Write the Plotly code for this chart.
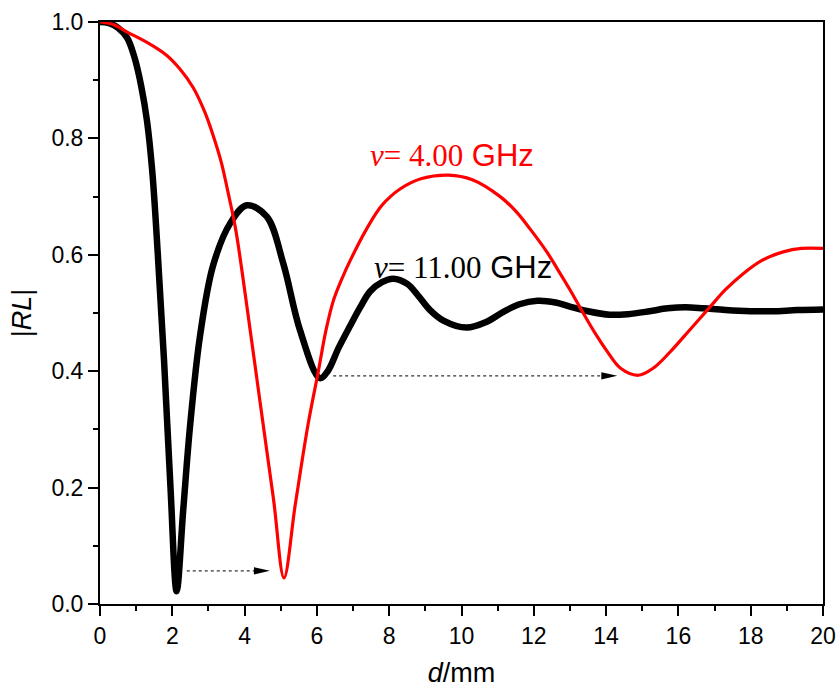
import plotly.graph_objects as go

# nu = 11.00 GHz (black)
d_11 = [0.0, 0.25, 0.5, 0.75, 0.95, 1.14, 1.3, 1.45, 1.6, 1.77, 1.95, 2.12, 2.3, 2.49, 2.77, 3.13,
        3.6, 4.06, 4.61, 5.07, 5.53, 6.08, 6.3, 6.6, 6.92, 7.2, 7.47, 7.8, 8.11, 8.5, 8.8, 9.13,
        9.5, 10.14, 10.7, 11.16, 11.6, 12.1, 12.6, 13.0, 13.5, 14.1, 14.6, 15.2, 15.7, 16.2,
        16.7, 17.3, 18.0, 18.6, 19.3, 20.0]
rl_11 = [1.0, 0.998, 0.99, 0.973, 0.94, 0.89, 0.83, 0.74, 0.60, 0.42, 0.20, 0.022, 0.16, 0.305,
         0.462, 0.582, 0.654, 0.685, 0.666, 0.585, 0.471, 0.388, 0.40, 0.44, 0.478, 0.51, 0.537,
         0.553, 0.559, 0.55, 0.53, 0.505, 0.487, 0.475, 0.485, 0.502, 0.515, 0.521, 0.518, 0.511,
         0.503, 0.497, 0.498, 0.503, 0.508, 0.510, 0.508, 0.505, 0.503, 0.503, 0.505, 0.506]

# nu = 4.00 GHz (red)
d_4 = [0.0, 0.4, 0.74, 1.3, 1.84, 2.2, 2.58, 2.9, 3.13, 3.35, 3.55, 3.75, 4.0, 4.41, 4.8, 5.09,
       5.4, 5.76, 6.04, 6.25, 6.45, 6.7, 6.92, 7.38, 7.8, 8.3, 8.9, 9.64, 10.3, 11.07, 11.5,
       11.89, 12.36, 12.63, 13.0, 13.32, 13.7, 14.02, 14.4, 14.89, 15.3, 15.77, 16.3, 16.87,
       17.3, 17.8, 18.3, 18.9, 19.4, 20.0]
rl_4 = [1.0, 0.995, 0.983, 0.965, 0.943, 0.92, 0.887, 0.845, 0.805, 0.76, 0.705, 0.645, 0.54,
        0.355, 0.18, 0.045, 0.17, 0.31, 0.40, 0.47, 0.52, 0.56, 0.59, 0.645, 0.685, 0.713, 0.731,
        0.737, 0.729, 0.70, 0.675, 0.645, 0.605, 0.578, 0.54, 0.505, 0.465, 0.435, 0.405, 0.393,
        0.405, 0.433, 0.47, 0.51, 0.54, 0.568, 0.59, 0.605, 0.611, 0.611]

# dotted arrows (start x, tip x, y)
arrow_x0 = [2.40, 6.45]
arrow_x1 = [4.70, 14.31]
arrow_y = [0.057, 0.392]

x_ticks = list(range(0, 21, 2))
y_ticks = [0.0, 0.2, 0.4, 0.6, 0.8, 1.0]

fig = go.Figure()
fig.add_trace(go.Scatter(x=d_11, y=rl_11, mode="lines",
                         line=dict(color="black", width=6.5, shape="spline", smoothing=1.0),
                         showlegend=False, hoverinfo="skip"))
fig.add_trace(go.Scatter(x=d_4, y=rl_4, mode="lines",
                         line=dict(color="#ff0000", width=3.2, shape="spline", smoothing=1.0),
                         showlegend=False, hoverinfo="skip"))

for x0, x1, y in zip(arrow_x0, arrow_x1, arrow_y):
    fig.add_trace(go.Scatter(x=[x0, x1 - 0.3], y=[y, y], mode="lines",
                             line=dict(color="#333333", width=1.2, dash="dot"),
                             showlegend=False, hoverinfo="skip"))
    fig.add_shape(type="path", xref="x", yref="y", xsizemode="pixel", ysizemode="pixel",
                  xanchor=x1, yanchor=y, path="M0,0 L-16,3.7 L-16,-3.7 Z",
                  fillcolor="black", line=dict(width=0))

serif = "font-family:'Liberation Serif','Times New Roman',serif"
fig.add_annotation(x=9.75, y=0.771, xref="x", yref="y", showarrow=False,
                   text=f"<span style=\"{serif}\"><i>ν</i>= 4.00</span> GHz",
                   font=dict(family="Arial, Liberation Sans", size=31, color="#ff0000"))
fig.add_annotation(x=10.05, y=0.579, xref="x", yref="y", showarrow=False,
                   text=f"<span style=\"{serif}\"><i>ν</i>= 11.00</span> GHz",
                   font=dict(family="Arial, Liberation Sans", size=31, color="black"))

axis_common = dict(showgrid=False, zeroline=False, showline=True, linecolor="black", linewidth=2,
                   mirror=True, ticks="outside", ticklen=10, tickwidth=2, tickcolor="black",
                   tickfont=dict(family="Arial, Liberation Sans", size=23, color="black"),
                   automargin=False)

fig.update_xaxes(range=[0, 20], tickvals=x_ticks, ticktext=[str(v) for v in x_ticks],
                 minor=dict(dtick=1, ticks="outside", ticklen=5, tickwidth=2, tickcolor="black"),
                 title=dict(text="<i>d</i>/mm", standoff=16,
                            font=dict(family="Arial, Liberation Sans", size=27, color="black")),
                 **axis_common)
fig.update_yaxes(range=[0, 1.0], tickvals=y_ticks, ticktext=[f"{v:.1f}" for v in y_ticks],
                 minor=dict(dtick=0.1, ticks="outside", ticklen=5, tickwidth=2, tickcolor="black"),
                 title=dict(text="|<i>RL</i>|", standoff=12,
                            font=dict(family="Arial, Liberation Sans", size=27, color="black")),
                 **axis_common)

fig.update_layout(width=839, height=695, margin=dict(l=100, r=16, t=22, b=91),
                  plot_bgcolor="white", paper_bgcolor="white", showlegend=False)

fig.write_html("out.html", config={"displayModeBar": False},
               post_script="document.body.style.margin='0';document.body.style.overflow='hidden';")
